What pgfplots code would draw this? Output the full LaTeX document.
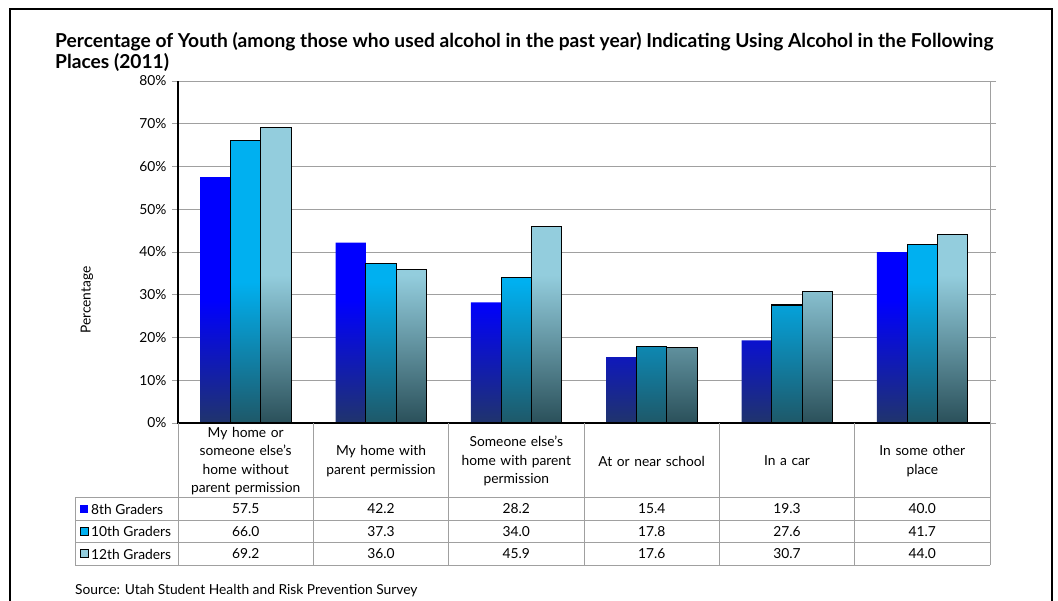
\documentclass[border=0pt]{standalone}
\usepackage{pgfplots}
\usepackage{pgfplotstable}
\pgfplotsset{compat=1.18}
\usepackage{fontspec}
\setmainfont{Lato}
\definecolor{c8t}{RGB}{0,0,255}
\definecolor{c8b}{RGB}{32,52,108}
\definecolor{c10t}{RGB}{0,176,240}
\definecolor{c10b}{RGB}{30,88,104}
\definecolor{c12t}{RGB}{147,205,221}
\definecolor{c12b}{RGB}{42,80,90}
\definecolor{gridc}{RGB}{160,160,160}
\pgfdeclareverticalshading{sh8}{100bp}{color(0bp)=(c8b); color(25bp)=(c8b); color(50bp)=(c8t); color(100bp)=(c8t)}
\pgfdeclareverticalshading{sh10}{100bp}{color(0bp)=(c10b); color(25bp)=(c10b); color(50bp)=(c10t); color(100bp)=(c10t)}
\pgfdeclareverticalshading{sh12}{100bp}{color(0bp)=(c12b); color(25bp)=(c12b); color(50bp)=(c12t); color(100bp)=(c12t)}
\pgfplotstableread{
x g8 g10 g12
0 57.5 66.0 69.2
1 42.2 37.3 36.0
2 28.2 34.0 45.9
3 15.4 17.8 17.6
4 19.3 27.6 30.7
5 40.0 41.7 44.0
}\datatable
\newcommand{\fs}{\fontsize{13.8}{18.5}\selectfont}
\begin{document}
\begin{tikzpicture}[x=1pt,y=1pt]
\path[use as bounding box] (0,0) rectangle (1058,-601);
\draw[line width=2pt] (10,-640) -- (10,-9) -- (1052,-9) -- (1052,-640);
\node[anchor=north west, font=\bfseries\fontsize{19.2}{21}\selectfont, align=left, inner sep=0pt] at (55,-32)
  {Percentage of Youth (among those who used alcohol in the past year) Indicating Using Alcohol in the Following\\Places (2011)};
\begin{axis}[
  at={(178pt,-423pt)}, anchor=south west, scale only axis,
  width=812pt, height=342pt,
  xmin=-0.5, xmax=5.5, ymin=0, ymax=80,
  ytick={0,10,...,80}, xtick=\empty,
  yticklabel={\pgfmathprintnumber{\tick}\%},
  /pgf/number format/assume math mode=true,
  tick label style={font=\fs},
  ymajorgrids, grid style={gridc, line width=0.9pt},
  axis line style={gridc, line width=0.9pt},
  major tick length=6pt, tick align=outside,
  ytick style={gridc, line width=0.9pt},
  yticklabel style={xshift=-2pt},
  ybar=0pt, bar width=30.3pt,
  clip=false,
]
\addplot[draw=none, shading=sh8] table[x=x,y=g8]{\datatable};
\addplot[draw=black, line width=1.1pt, shading=sh10] table[x=x,y=g10]{\datatable};
\addplot[draw=black, line width=1.1pt, shading=sh12] table[x=x,y=g12]{\datatable};
\draw[black, line width=1.3pt] (rel axis cs:0,1) -- (rel axis cs:0,0) -- (rel axis cs:1,0);
\end{axis}
\node[rotate=90, font=\fs] at (87,-300) {Percentage};
% table grid
\begin{scope}[gridc, line width=0.9pt]
\foreach \xx in {178,313.33,448.67,584,719.33,854.67,990} { \draw (\xx,-423) -- (\xx,-565); }
\foreach \yy in {-497.5,-520,-542.5,-565} { \draw (75,\yy) -- (990,\yy); }
\draw (75,-497.5) -- (75,-565);
\end{scope}
% header
\foreach \xc/\txt in {245.67/{My home or\\someone else's\\home without\\parent permission},
  381/{My home with\\parent permission},
  516.33/{Someone else's\\home with parent\\permission},
  651.67/{At or near school},
  787/{In a car},
  922.33/{In some other\\place}} {
  \node[font=\fs, align=center, text width=130pt, inner sep=0pt] at (\xc,-461) {\txt};
}
% legend column
\fill[c8t] (80,-504.5) rectangle (88,-512.5);
\draw[black, line width=0.8pt, fill=c10t] (80,-527) rectangle (88,-535);
\draw[black, line width=0.8pt, fill=c12t] (80,-549.5) rectangle (88,-557.5);
\node[anchor=west, font=\fs, inner sep=0pt] at (91,-509) {8th Graders};
\node[anchor=west, font=\fs, inner sep=0pt] at (91,-531.5) {10th Graders};
\node[anchor=west, font=\fs, inner sep=0pt] at (91,-554) {12th Graders};
% values
\foreach \xc/\a/\b/\c in {245.67/57.5/66.0/69.2, 381/42.2/37.3/36.0, 516.33/28.2/34.0/45.9,
  651.67/15.4/17.8/17.6, 787/19.3/27.6/30.7, 922.33/40.0/41.7/44.0} {
  \node[font=\fs, inner sep=0pt] at (\xc,-509) {\a};
  \node[font=\fs, inner sep=0pt] at (\xc,-531.5) {\b};
  \node[font=\fs, inner sep=0pt] at (\xc,-554) {\c};
}
\node[anchor=west, font=\fs, inner sep=0pt] at (75,-591) {Source: Utah Student Health and Risk Prevention Survey};
\end{tikzpicture}
\end{document}
